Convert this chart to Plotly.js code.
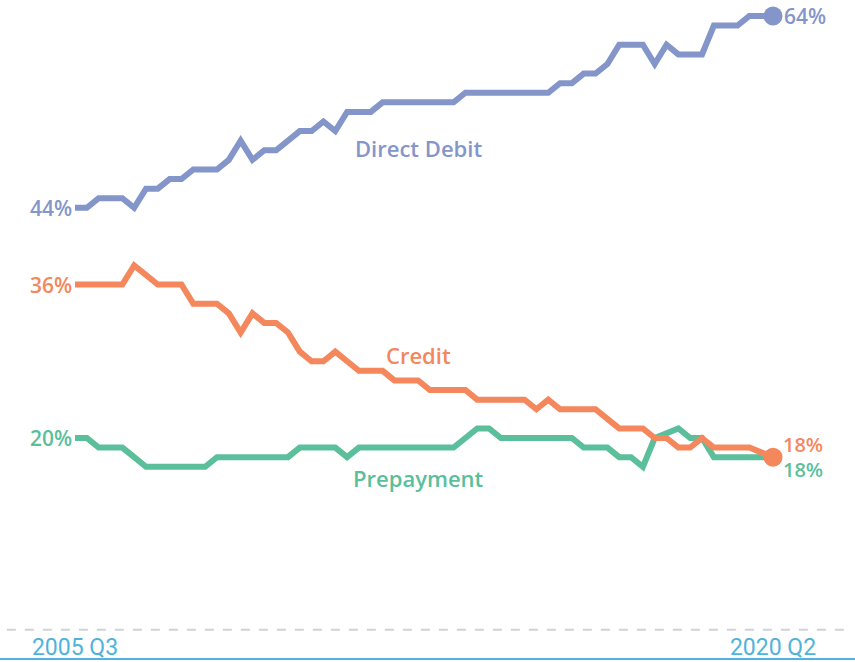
<!DOCTYPE html>
<html>
<head>
<meta charset="utf-8">
<script src="https://cdn.plot.ly/plotly-3.0.1.min.js"></script>
<style>html,body{margin:0;padding:0;background:#fff;}#chart{width:855px;height:662px;}</style>
</head>
<body>
<div id="chart"></div>
<script>
// Quarterly, 2005 Q3 .. 2020 Q2 (60 quarters)
const quarters = [];
for (let y = 2005; y <= 2020; y++) {
  for (let q = 1; q <= 4; q++) {
    if ((y === 2005 && q < 3) || (y === 2020 && q > 2)) continue;
    quarters.push(y + " Q" + q);
  }
}
const directDebit = [44,44,45,45,45,44,46,46,47,47,48,48,48,49,51,49,50,50,51,52,52,53,52,54,54,54,55,55,55,55,55,55,55,56,56,56,56,56,56,56,56,57,57,58,58,59,61,61,61,59,61,60,60,60,63,63,63,64,64,64];
const credit = [36,36,36,36,36,38,37,36,36,36,34,34,34,33,31,33,32,32,31,29,28,28,29,28,27,27,27,26,26,26,25,25,25,25,24,24,24,24,24,23,24,23,23,23,23,22,21,21,21,20,20,19,19,20,19,19,19,19,18.5,18];
const prepayment = [20,20,19,19,19,18,17,17,17,17,17,17,18,18,18,18,18,18,18,19,19,19,19,18,19,19,19,19,19,19,19,19,19,20,21,21,20,20,20,20,20,20,20,19,19,19,18,18,17,20,20.5,21,20,20,18,18,18,18,18,18];
const seriesNames = ["Direct Debit", "Credit", "Prepayment"];
const tickLabels = [quarters[0], quarters[quarters.length - 1]];

const colors = ["#8496c9", "#f4875c", "#5bbf9c"];
const axisBlue = "#4fb3dc";
const idx = quarters.map((_, i) => i);
const last = idx.length - 1;
const font = "'Open Sans', Lato, sans-serif";

function trace(vals, color, endDot) {
  return {
    x: idx, y: vals, type: "scatter", mode: endDot ? "lines+markers" : "lines",
    line: {color: color, width: 6, shape: "linear"},
    marker: {color: color, opacity: 1, line: {width: 0}, size: idx.map(i => (i === last ? 19 : 0))},
    hoverinfo: "skip", showlegend: false, cliponaxis: false
  };
}

const data = [
  trace(prepayment, colors[2], false),
  trace(credit, colors[1], true),
  trace(directDebit, colors[0], true)
];

function pct(v) { return Math.round(v) + "%"; }
const lblFont = (c, s) => ({family: font, size: s || 21, color: c, weight: 600});
const ann = [];
// start labels
[[directDebit, 0], [credit, 1], [prepayment, 2]].forEach(([s, k]) => {
  ann.push({x: 0, y: s[0], xref: "x", yref: "y", text: pct(s[0]), showarrow: false,
    xanchor: "right", yanchor: "middle", xshift: -1, font: lblFont(colors[k])});
});
// end labels
ann.push({x: last, y: directDebit[last], text: pct(directDebit[last]), showarrow: false, xanchor: "left", yanchor: "middle", xshift: 9, font: lblFont(colors[0])});
ann.push({x: last, y: credit[last], text: pct(credit[last]), showarrow: false, xanchor: "left", yanchor: "bottom", xshift: 9, yshift: -2, borderpad: 0, font: lblFont(colors[1], 20)});
ann.push({x: last, y: prepayment[last], text: pct(prepayment[last]), showarrow: false, xanchor: "left", yanchor: "top", xshift: 9, yshift: 2, borderpad: 0, font: lblFont(colors[2], 20)});
// series names
const namePos = [[29, 50.2], [29, 28.65], [29, 15.8]];
seriesNames.forEach((n, k) => {
  ann.push({x: namePos[k][0], y: namePos[k][1], text: n, showarrow: false, xanchor: "center", yanchor: "middle",
    font: {family: font, size: 22, color: colors[k], weight: 600}});
});

const layout = {
  width: 855, height: 662,
  margin: {l: 0, r: 0, t: 0, b: 4},
  paper_bgcolor: "#fff", plot_bgcolor: "#fff",
  xaxis: {
    range: [-6.34, 65.93], showgrid: false, zeroline: false,
    showline: true, linecolor: axisBlue, linewidth: 2,
    tickmode: "array", tickvals: [0, last], ticktext: tickLabels,
    ticklabelposition: "inside", ticks: "",
    tickfont: {family: "'Liberation Sans Narrow', 'Roboto', sans-serif", size: 23, color: axisBlue, weight: 400}
  },
  yaxis: {range: [-2.94, 65.67], showgrid: false, zeroline: false, showticklabels: false, showline: false},
  shapes: [{type: "line", xref: "paper", yref: "y", x0: 0.008, x1: 0.992, y0: 0, y1: 0,
    line: {color: "#cfd3d6", width: 2, dash: "dash"}}],
  annotations: ann
};

Plotly.newPlot("chart", data, layout, {displayModeBar: false, staticPlot: true});
</script>
</body>
</html>
